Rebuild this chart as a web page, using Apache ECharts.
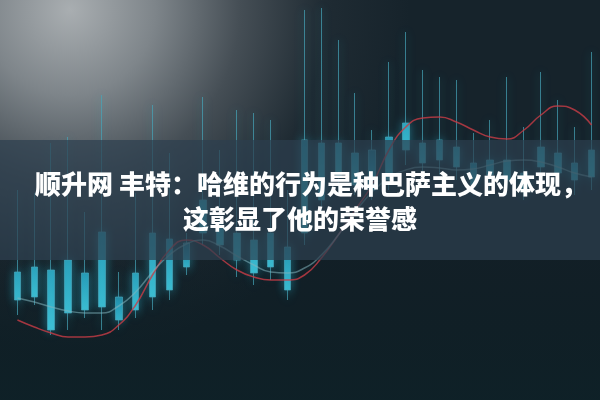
<!DOCTYPE html>
<html>
<head>
<meta charset="utf-8">
<script src="https://cdn.jsdelivr.net/npm/echarts@6/dist/echarts.min.js"></script>
<style>html,body{margin:0;padding:0;background:#16232b;}#c{width:600px;height:400px;}</style>
</head>
<body>
<div id="c"></div>
<script>
// ---- data (price units = 400 - pixel row) ----
var categories = ['1','2','3','4','5','6','7','8','9','10','11','12','13','14','15','16','17','18','19','20','21','22','23','24','25','26','27','28','29','30','31','32','33','34','35'];
var opens  = [100,103,70,87,90,93,80,90,103,110,133,167,155,140,127,133,110,167,200,223,215,210,220,250,237,240,233,215,225,220,210,233,227,220,223];
var closes = [128,133,130,140,127,168,103,127,167,161,157,200,175,167,160,167,153,260,257,257,247,250,263,277,257,260,253,237,240,240,227,253,247,237,250];
var lows   = [85,95,65,70,82,70,70,82,90,100,125,155,145,123,115,120,100,155,185,210,205,200,210,235,225,225,220,205,210,205,200,220,215,205,210];
var highs  = [210,207,257,263,188,305,128,207,295,247,167,303,250,290,287,280,210,390,392,360,307,270,338,368,330,323,320,267,280,323,273,328,300,273,348];
var redLine  = [80,73,67,63,63,65,75,95,125,150,160,155,142,130,123,120,120,125,142,165,190,215,250,273,282,283,278,270,263,261,270,285,294,290,275];
var tealLine = [102,98,93,89,87,87,94,108,128,145,156,160,154,144,135,128,127,132,145,165,188,208,222,230,233,232,230,231,235,239,240,238,233,227,223];
var titleLine1 = '顺升网 丰特：哈维的行为是种巴萨主义的体现，';
var titleLine2 = '这彰显了他的荣誉感';

var candleData = categories.map(function (c, i) {
  return [opens[i], closes[i], lows[i], highs[i]];
});

var chart = echarts.init(document.getElementById('c'), null, {renderer: 'canvas'});
var bodyGrad = {
  type: 'linear', x: 0, y: 0, x2: 0, y2: 1,
  colorStops: [
    {offset: 0, color: 'rgba(30,105,135,0.75)'},
    {offset: 0.55, color: 'rgba(40,165,195,0.85)'},
    {offset: 1, color: 'rgba(70,210,230,0.9)'}
  ]
};
chart.setOption({
  animation: false,
  backgroundColor: '#16232b',
  grid: {left: 9, right: 0, top: 0, bottom: 0},
  xAxis: {type: 'category', data: categories, show: false, boundaryGap: true},
  yAxis: {type: 'value', min: 0, max: 400, show: false},
  graphic: [
    {type: 'rect', z: -10, silent: true, shape: {x: 0, y: 0, width: 600, height: 400},
     style: {fill: {type: 'radial', x: 70, y: 10, r: 340, global: true,
       colorStops: [
         {offset: 0, color: '#a9aeb1'},
         {offset: 0.25, color: '#7e858a'},
         {offset: 0.5, color: '#454e55'},
         {offset: 0.75, color: '#1f2b33'},
         {offset: 1, color: '#16232b'}
       ]}}},
    {type: 'rect', z: -9, silent: true, shape: {x: 0, y: 260, width: 600, height: 140},
     style: {fill: {type: 'linear', x: 0, y: 0, x2: 0, y2: 1,
       colorStops: [{offset: 0, color: 'rgba(10,24,30,0.35)'}, {offset: 1, color: 'rgba(12,32,38,0.75)'}]}}},
    {type: 'rect', z: 50, silent: true, shape: {x: 0, y: 140, width: 600, height: 120},
     style: {fill: 'rgba(44,62,78,0.7)'}},
    {type: 'text', z: 60, silent: true, x: 311, y: 184,
     style: {text: titleLine1, fill: '#ffffff', font: '900 26px "Noto Sans CJK SC"',
       textAlign: 'center', textVerticalAlign: 'middle',
       shadowBlur: 3, shadowColor: 'rgba(0,0,0,0.4)'}},
    {type: 'text', z: 60, silent: true, x: 300, y: 219,
     style: {text: titleLine2, fill: '#ffffff', font: '900 26px "Noto Sans CJK SC"',
       textAlign: 'center', textVerticalAlign: 'middle',
       shadowBlur: 3, shadowColor: 'rgba(0,0,0,0.4)'}}
  ],
  series: [
    {
      type: 'candlestick', data: candleData, barWidth: 7,
      itemStyle: {
        color: bodyGrad, color0: bodyGrad,
        borderColor: 'rgba(70,165,185,0.7)', borderColor0: 'rgba(70,165,185,0.7)',
        borderWidth: 1,
        shadowBlur: 10, shadowColor: 'rgba(40,200,230,0.55)'
      }
    },
    {
      type: 'line', data: redLine, smooth: true, symbol: 'none',
      lineStyle: {color: 'rgba(200,60,70,0.8)', width: 1.5}
    },
    {
      type: 'line', data: tealLine, smooth: true, symbol: 'none',
      lineStyle: {color: 'rgba(130,180,190,0.55)', width: 1.5}
    }
  ]
});
</script>
</body>
</html>
